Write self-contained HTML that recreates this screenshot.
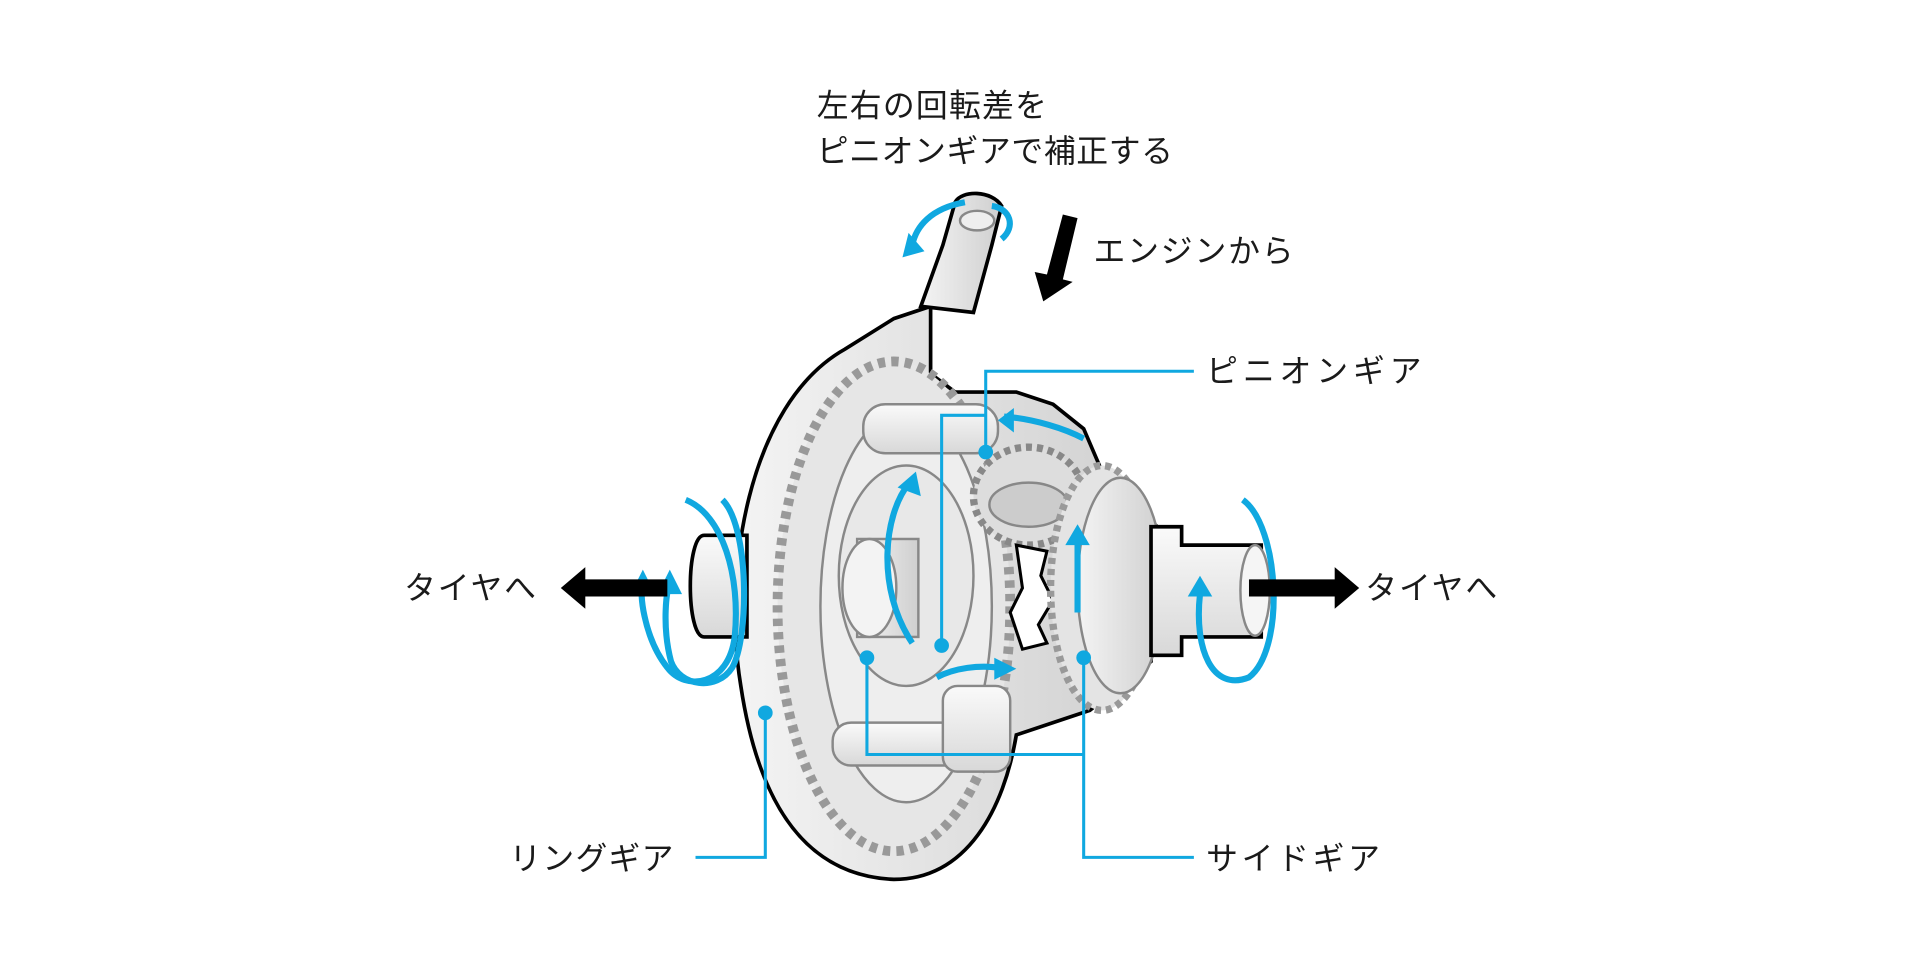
<!DOCTYPE html>
<html><head><meta charset="utf-8"><style>
html,body{margin:0;padding:0;background:#fff;}
svg{display:block;}
text{font-family:"Liberation Sans","Noto Sans CJK JP",sans-serif;fill:#1a1a1a;}
</style></head><body>
<svg width="1920" height="980" viewBox="0 0 1568 800" xmlns="http://www.w3.org/2000/svg">
<defs>
<linearGradient id="g1" x1="0" y1="0" x2="0" y2="1"><stop offset="0" stop-color="#fafafa"/><stop offset="1" stop-color="#d8d8d8"/></linearGradient>
<linearGradient id="g2" x1="0" y1="0" x2="1" y2="0"><stop offset="0" stop-color="#f4f4f4"/><stop offset="1" stop-color="#cfcfcf"/></linearGradient>
</defs>
<text x="667" y="95" font-size="26" letter-spacing="1">左右の回転差を</text>
<text x="667" y="132" font-size="26" letter-spacing="0.5">ピニオンギアで補正する</text>
<text x="893" y="214" font-size="26" letter-spacing="1.5">エンジンから</text>
<text x="985" y="312" font-size="26" letter-spacing="4">ピニオンギア</text>
<text x="330" y="489" font-size="26" letter-spacing="1.5">タイヤへ</text>
<text x="1115" y="489" font-size="26" letter-spacing="1.5">タイヤへ</text>
<text x="416" y="710" font-size="26" letter-spacing="1">リングギア</text>
<text x="985" y="710" font-size="26" letter-spacing="3">サイドギア</text>

<!-- ring gear disk -->
<path d="M690,285 C610,330 590,470 605,560 C620,660 660,715 730,718 C790,718 820,660 830,600 L860,590 L890,580 L940,540 L945,430 L900,385 L885,350 L860,330 L830,320 L780,320 L760,305 L760,250 L730,260 Z" fill="url(#g2)" stroke="#000" stroke-width="3"/>
<ellipse cx="730" cy="495" rx="95" ry="200" fill="#e6e6e6" stroke="#999" stroke-width="8" stroke-dasharray="6 5"/>
<ellipse cx="740" cy="495" rx="70" ry="160" fill="#eeeeee" stroke="#888" stroke-width="2"/>
<ellipse cx="740" cy="470" rx="55" ry="90" fill="#e8e8e8" stroke="#888" stroke-width="2"/>
<rect x="700" y="440" width="50" height="80" fill="url(#g2)" stroke="#888" stroke-width="2"/>
<ellipse cx="710" cy="480" rx="22" ry="40" fill="#f3f3f3" stroke="#888" stroke-width="2"/>
<ellipse cx="840" cy="405" rx="45" ry="40" fill="#ddd" stroke="#888" stroke-width="6" stroke-dasharray="5 4"/>
<ellipse cx="840" cy="412" rx="32" ry="18" fill="#ccc" stroke="#888" stroke-width="2"/>
<rect x="705" y="330" width="110" height="40" rx="18" fill="url(#g1)" stroke="#888" stroke-width="2"/>
<rect x="680" y="590" width="120" height="35" rx="15" fill="url(#g1)" stroke="#888" stroke-width="2"/>
<rect x="770" y="560" width="55" height="70" rx="12" fill="url(#g1)" stroke="#888" stroke-width="2"/>
<path d="M830,445 L855,450 L850,470 L860,490 L848,510 L855,525 L835,530 L825,500 L835,480 Z" fill="#fff" stroke="#000" stroke-width="2.5"/>
<ellipse cx="900" cy="480" rx="42" ry="100" fill="#e4e4e4" stroke="#999" stroke-width="6" stroke-dasharray="5 4"/>
<ellipse cx="915" cy="478" rx="35" ry="88" fill="url(#g2)" stroke="#888" stroke-width="2"/>
<path d="M940,430 L965,430 L965,445 L1030,445 L1030,520 L965,520 L965,535 L940,535 Z" fill="url(#g1)" stroke="#000" stroke-width="3"/>
<ellipse cx="1025" cy="482" rx="12" ry="37" fill="#f5f5f5" stroke="#888" stroke-width="2"/>
<path d="M752,250 L770,200 L780,165 C785,155 810,155 818,168 L810,200 L795,255 Z" fill="url(#g2)" stroke="#000" stroke-width="3"/>
<ellipse cx="798" cy="180" rx="14" ry="8" fill="#eee" stroke="#888" stroke-width="2"/>
<path d="M610,437 L575,437 C560,437 560,520 575,520 L610,520 Z" fill="url(#g1)" stroke="#000" stroke-width="3"/>

<g fill="none" stroke="#10a8e0" stroke-width="5">
<path d="M560,408 C590,420 605,470 600,520 C595,560 560,565 545,545 C525,520 522,480 525,480"/>
<path d="M590,408 C612,430 612,520 598,545 C585,565 555,560 548,540 C540,510 545,480 546,480"/>
<path d="M1015,408 C1045,430 1050,530 1020,553 C990,565 975,530 980,485"/>
<path d="M818,195 C830,185 825,170 810,168 M788,165 C760,170 748,185 745,200"/>
<path d="M820,340 C845,342 870,350 885,358"/>
<path d="M745,525 C715,480 722,420 742,395"/>
<path d="M880,500 L880,440"/>
<path d="M765,553 C780,545 800,543 815,545"/>
</g>
<g fill="#10a8e0">
<polygon points="515,485 525,465 535,485"/><polygon points="537,485 547,465 557,485"/>
<polygon points="970,487 980,470 990,487"/>
<polygon points="737,210 742,190 755,205"/>
<polygon points="815,343 828,333 828,353"/>
<polygon points="733,398 748,385 752,405"/>
<polygon points="870,445 880,428 890,445"/>
<polygon points="812,537 830,546 812,555"/>
</g>
<polygon points="545,473 478,473 478,463 458,480 478,497 478,487 545,487" fill="#000"/>
<polygon points="1020,473 1090,473 1090,463 1110,480 1090,497 1090,487 1020,487" fill="#000"/>
<polygon points="868,175 880,178 868,228 876,230 852,246 845,222 855,224" fill="#000"/>

<g fill="none" stroke="#10a8e0" stroke-width="2.5">
<path d="M975,303 L805,303 L805,369"/>
<path d="M805,339 L769,339 L769,527"/>
<path d="M568,700 L625,700 L625,582"/>
<path d="M975,700 L885,700 L885,537"/>
<path d="M708,537 L708,616 L885,616"/>
</g>
<g fill="#10a8e0">
<circle cx="805" cy="369" r="6"/><circle cx="769" cy="527" r="6"/><circle cx="625" cy="582" r="6"/>
<circle cx="885" cy="537" r="6"/><circle cx="708" cy="537" r="6"/>
</g>
</svg>
</body></html>
